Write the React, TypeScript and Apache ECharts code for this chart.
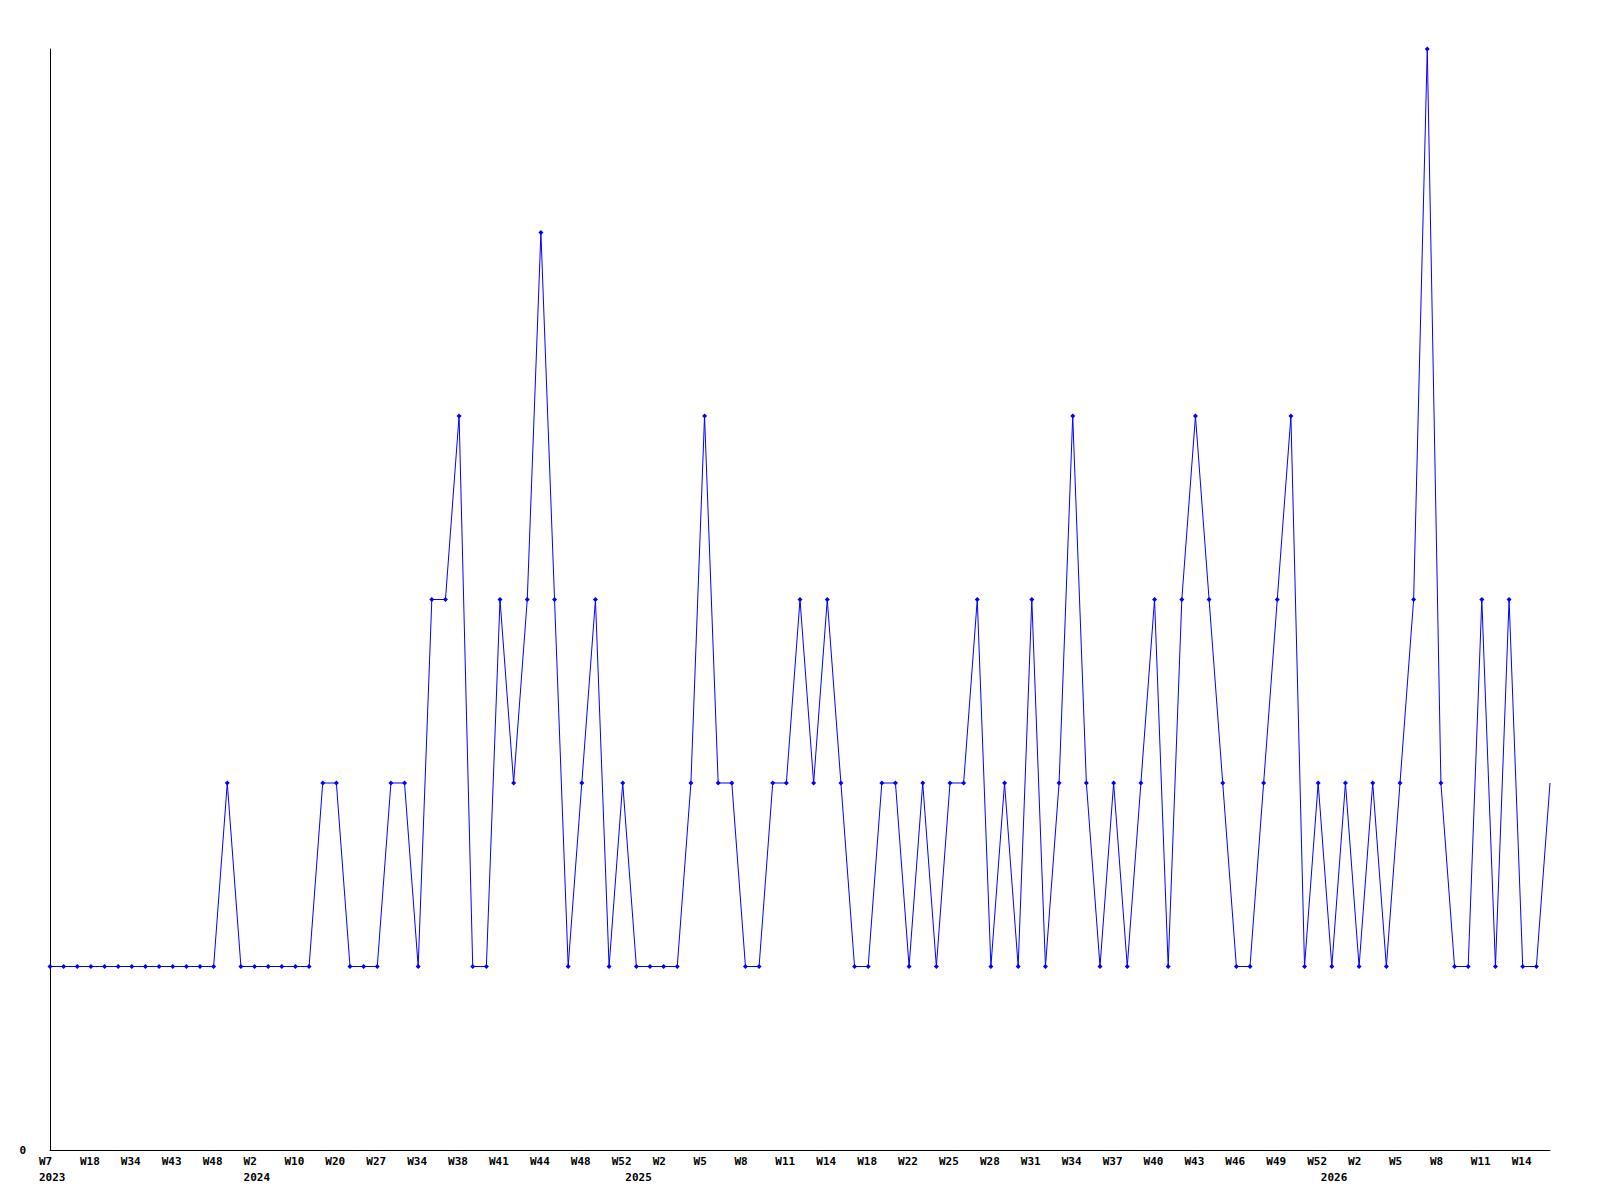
import React, { useEffect, useRef } from "react";
import * as echarts from "echarts";

// Weekly categories (year-week). Every third one is labelled on the axis.
const categories: string[] = [
  "2023-W07", "2023-W10", "2023-W14", "2023-W18", "2023-W24", "2023-W29",
  "2023-W34", "2023-W37", "2023-W40", "2023-W43", "2023-W45", "2023-W46",
  "2023-W48", "2023-W50", "2023-W51",
  "2024-W02", "2024-W04", "2024-W07", "2024-W10", "2024-W13", "2024-W16",
  "2024-W20", "2024-W22", "2024-W25", "2024-W27", "2024-W29", "2024-W31",
  "2024-W34", "2024-W35", "2024-W37", "2024-W38", "2024-W39", "2024-W40",
  "2024-W41", "2024-W42", "2024-W43", "2024-W44", "2024-W45", "2024-W47",
  "2024-W48", "2024-W49", "2024-W51", "2024-W52",
  "2025-W00", "2025-W01", "2025-W02", "2025-W03", "2025-W04", "2025-W05",
  "2025-W06", "2025-W07", "2025-W08", "2025-W09", "2025-W10", "2025-W11",
  "2025-W12", "2025-W13", "2025-W14", "2025-W15", "2025-W17", "2025-W18",
  "2025-W19", "2025-W21", "2025-W22", "2025-W23", "2025-W24", "2025-W25",
  "2025-W26", "2025-W27", "2025-W28", "2025-W29", "2025-W30", "2025-W31",
  "2025-W32", "2025-W33", "2025-W34", "2025-W35", "2025-W36", "2025-W37",
  "2025-W38", "2025-W39", "2025-W40", "2025-W41", "2025-W42", "2025-W43",
  "2025-W44", "2025-W45", "2025-W46", "2025-W47", "2025-W48", "2025-W49",
  "2025-W50", "2025-W51", "2025-W52",
  "2026-W00", "2026-W01", "2026-W02", "2026-W03", "2026-W04", "2026-W05",
  "2026-W06", "2026-W07", "2026-W08", "2026-W09", "2026-W10", "2026-W11",
  "2026-W12", "2026-W13", "2026-W14", "2026-W15", "2026-W16",
];

const values: number[] = [
  1, 1, 1, 1, 1, 1, 1, 1, 1, 1, 1, 1, 1,
  2,
  1, 1, 1, 1, 1, 1,
  2, 2, 1, 1, 1, 2, 2, 1,
  3, 3, 4, 1, 1, 3, 2, 3, 5, 3, 1, 2, 3, 1, 2, 1, 1, 1, 1, 2, 4, 2, 2, 1, 1,
  2, 2, 3, 2, 3, 2, 1, 1, 2, 2, 1, 2, 1, 2, 2, 3, 1, 2, 1, 3, 1, 2, 4, 2, 1,
  2, 1, 2, 3, 1, 3, 4, 3, 2, 1, 1, 2, 3, 4, 1, 2, 1,
  2, 1, 2, 1, 2, 3, 6, 2, 1, 1, 3, 1, 3, 1, 1, 2,
];

const yTicks: number[] = [0, 1, 2, 3, 4, 5, 6];

const FONT = "DejaVu Sans Mono";

function weekOf(c: string): string {
  return "W" + parseInt(c.split("-W")[1], 10);
}
function yearOf(c: string): string {
  return c.split("-W")[0];
}

export default function App() {
  const ref = useRef<HTMLDivElement>(null);

  useEffect(() => {
    if (!ref.current) return;
    const chart = echarts.init(ref.current, undefined, { renderer: "svg" });
    const lastIdx = values.length - 1;
    const seriesData = values.map((v, i) =>
      i === lastIdx ? { value: v, symbol: "none" } : v
    );
    chart.setOption({
      animation: false,
      backgroundColor: "#ffffff",
      grid: { left: 50, right: 50, top: 49, bottom: 50, containLabel: false },
      xAxis: [
        {
          type: "category",
          data: categories,
          boundaryGap: false,
          position: "bottom",
          axisLine: { show: true, lineStyle: { color: "#000000", width: 1 } },
          axisTick: { show: false },
          splitLine: { show: false },
          axisLabel: {
            interval: 2,
            margin: 6,
            align: "left",
            padding: [0, 0, 0, -11],
            color: "#000000",
            fontFamily: FONT,
            fontWeight: "bold",
            fontSize: 11,
            formatter: (v: string) => weekOf(v),
          },
        },
        {
          type: "category",
          data: categories,
          boundaryGap: false,
          position: "bottom",
          offset: 16,
          axisLine: { show: false },
          axisTick: { show: false },
          splitLine: { show: false },
          axisLabel: {
            interval: (i: number) =>
              i === 0 || yearOf(categories[i]) !== yearOf(categories[i - 1]),
            margin: 6,
            align: "left",
            padding: [0, 0, 0, -11],
            color: "#000000",
            fontFamily: FONT,
            fontWeight: "bold",
            fontSize: 11,
            formatter: (v: string) => yearOf(v),
          },
        },
      ],
      yAxis: {
        type: "value",
        min: yTicks[0],
        max: yTicks[yTicks.length - 1],
        interval: 1,
        axisLine: { show: true, lineStyle: { color: "#000000", width: 1 } },
        axisTick: { show: false },
        splitLine: { show: false },
        axisLabel: {
          margin: 24,
          color: "#000000",
          fontFamily: FONT,
          fontWeight: "bold",
          fontSize: 11,
          formatter: (v: number) => (v === 0 ? "0" : ""),
        },
      },
      series: [
        {
          type: "line",
          xAxisIndex: 0,
          data: seriesData,
          symbol: "diamond",
          symbolSize: 5,
          showAllSymbol: true,
          lineStyle: { color: "#0000ff", width: 1 },
          itemStyle: { color: "#0000ff" },
          clip: false,
        },
      ],
    });
    return () => chart.dispose();
  }, []);

  return (
    <div
      ref={ref}
      style={{ position: "absolute", left: 0, top: 0, width: 1600, height: 1200 }}
    />
  );
}
